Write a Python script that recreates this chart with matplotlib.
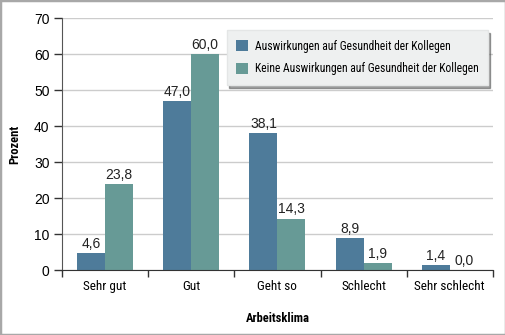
import matplotlib.pyplot as plt
import matplotlib.patches as patches
from matplotlib import font_manager as fm
import numpy as np

# Daten
categories = ['Sehr gut', 'Gut', 'Geht so', 'Schlecht', 'Sehr schlecht']
series_names = ['Auswirkungen auf Gesundheit der Kollegen',
                'Keine Auswirkungen auf Gesundheit der Kollegen']
with_effect = [4.6, 47.0, 38.1, 8.9, 1.4]
without_effect = [23.8, 60.0, 14.3, 1.9, 0.0]
y_ticks = [0, 10, 20, 30, 40, 50, 60, 70]

# schmale Schrift suchen, falls vorhanden
narrow = None
stretch = 'normal'
names = {f.name for f in fm.fontManager.ttflist}
for cand in ['Liberation Sans Narrow', 'DejaVu Sans Condensed', 'Roboto Condensed',
             'Open Sans Condensed', 'Noto Sans Condensed']:
    if cand in names:
        narrow = cand
        break
if narrow is None:
    for f in fm.fontManager.ttflist:
        if f.name in ('DejaVu Sans', 'Noto Sans', 'Open Sans') and f.stretch in ('condensed', 'semi-condensed'):
            narrow = f.name
            stretch = f.stretch
            break
if narrow is None:
    narrow = 'Liberation Sans'
    scale = 0.85
else:
    scale = 1.0

plt.rcParams['font.family'] = [narrow, 'Liberation Sans', 'DejaVu Sans']
plt.rcParams['font.stretch'] = stretch

blue = '#4e7b9a'
teal = '#679a96'

fig = plt.figure(figsize=(5.06, 3.35), dpi=100)
ax = fig.add_axes([0.1225, 0.194, 0.8515, 0.751])

x = np.arange(len(categories))
w = 0.325
b1 = ax.bar(x - w / 2, with_effect, w, color=blue, label=series_names[0], zorder=3)
b2 = ax.bar(x + w / 2, without_effect, w, color=teal, label=series_names[1], zorder=3)

# Werte ueber den Balken
for bars, vals in [(b1, with_effect), (b2, without_effect)]:
    for rect, v in zip(bars, vals):
        ax.text(rect.get_x() + rect.get_width() / 2, v + 0.6, f'{v:.1f}'.replace('.', ','),
                ha='center', va='bottom', fontsize=10, color='#222222',
                family=['Liberation Sans', 'DejaVu Sans'], stretch='normal')

ax.set_xlim(-0.5, len(categories) - 0.5)
ax.set_ylim(0, 70)
ax.set_yticks(y_ticks)
ax.set_yticklabels([str(t) for t in y_ticks], fontsize=10,
                   family=['Liberation Sans', 'DejaVu Sans'], stretch='normal')
ax.yaxis.grid(True, color='#cccccc', linewidth=1, zorder=0)

# Kategorien mittig, Tickstriche an den Grenzen
ax.set_xticks(x)
ax.set_xticklabels(categories, fontsize=9.5 * scale)
ax.tick_params(axis='x', length=0, pad=7)
ax.set_xticks(np.arange(len(categories) + 1) - 0.5, minor=True)
ax.tick_params(axis='x', which='minor', length=5, width=1, color='#333333')
ax.tick_params(axis='y', length=6, width=1, color='#333333', pad=3)

for s in ['top', 'right']:
    ax.spines[s].set_visible(False)
ax.spines['left'].set_color('#555555')
ax.spines['bottom'].set_color('#333333')
ax.spines['bottom'].set_zorder(4)

ax.set_ylabel('Prozent', fontsize=9 * scale, fontweight='bold', labelpad=9)
ax.set_xlabel('Arbeitsklima', fontsize=9 * scale, fontweight='bold', labelpad=14)

leg = ax.legend(loc='upper right', bbox_to_anchor=(0.988, 0.953), borderaxespad=0,
                prop={'size': 8.4 * scale}, frameon=True, fancybox=False, shadow=True,
                handlelength=1.0, handleheight=1.0, handletextpad=0.6,
                borderpad=0.8, labelspacing=0.85)
leg.set_zorder(6)
leg.get_frame().set_facecolor('#eef0f0')
leg.get_frame().set_edgecolor('#e4e6e6')
leg.get_frame().set_alpha(1)

# grauer Rahmen um die ganze Grafik
fig.patches.append(patches.Rectangle((0, 0), 1, 1, transform=fig.transFigure,
                                     fill=False, edgecolor='#a8a8a8', linewidth=2.5))

fig.savefig('out.png', dpi=100)
